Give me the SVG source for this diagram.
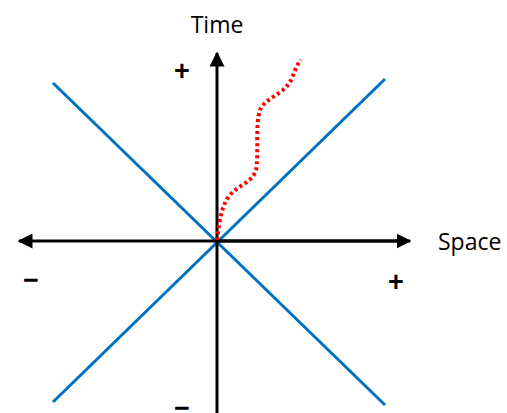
<svg xmlns="http://www.w3.org/2000/svg" width="507" height="413" viewBox="0 0 507 413">
<style>
.cone{stroke:#0070C0;stroke-width:3;fill:none}
.axis{stroke:#000;stroke-width:3;fill:none}
.lbl{font-family:"Open Sans","Liberation Sans",sans-serif;font-size:23px;fill:#000}
.sign{font-family:"Liberation Sans",Arial,sans-serif;font-size:27px;font-weight:bold;fill:#000;text-anchor:middle}
.path{stroke:#FF0000;stroke-width:4;stroke-dasharray:3 3;fill:none}
</style>
<defs>
<marker id="ah" viewBox="0 0 10 10" refX="9" refY="5" markerWidth="5" markerHeight="5" orient="auto" markerUnits="strokeWidth">
<path d="M0,0 L10,5 L0,10 Z" fill="#000"/>
</marker>
</defs>
<rect width="507" height="413" fill="#fff"/>
<g id="connectors">
<line class="cone" x1="53" y1="83" x2="385" y2="405"/>
<line class="cone" x1="53" y1="402" x2="385" y2="79"/>
<line class="axis" x1="217" y1="413" x2="217" y2="53" marker-end="url(#ah)"/>
<line class="axis" x1="400" y1="241" x2="19" y2="241" marker-end="url(#ah)"/>
<line class="axis" x1="217" y1="241" x2="410" y2="241" marker-end="url(#ah)"/>
<path class="path" d="M217,240 C219,225 221,205 230,195 C238,185 252,183 256,170 C259,155 255,125 260,110 C265,98 282,95 290,82 C294,75 296,65 301,60"/>
</g>
<g id="time-label"><text class="lbl" x="217" y="33" text-anchor="middle">Time</text></g>
<g id="space-label"><text class="lbl" x="438" y="250">Space</text></g>
<g id="plus-time"><text class="sign" x="182" y="80">+</text></g>
<g id="minus-time"><text class="sign" x="182" y="417">−</text></g>
<g id="minus-space"><text class="sign" x="31" y="289">−</text></g>
<g id="plus-space"><text class="sign" x="396" y="291">+</text></g>
</svg>
